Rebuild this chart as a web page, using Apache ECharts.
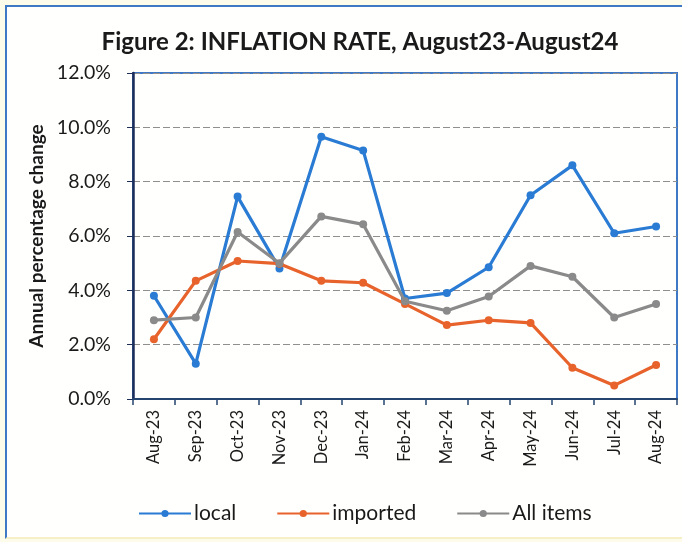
<!DOCTYPE html>
<html>
<head>
<meta charset="utf-8">
<script src="https://cdn.jsdelivr.net/npm/echarts@6/dist/echarts.min.js"></script>
<style>
html,body{margin:0;padding:0;width:682px;height:542px;overflow:hidden;background:#fdfbea;}
#frame{position:absolute;left:5px;top:5px;width:700px;height:530px;border-left:2px solid #3f78c4;border-top:2px solid #3f78c4;border-bottom:2px solid #f6efc8;background:#fffffd;}
#chart{position:absolute;left:0;top:0;width:682px;height:542px;}
</style>
</head>
<body>
<div id="frame"></div>
<div id="chart"></div>
<script>
const categories = ["Aug-23","Sep-23","Oct-23","Nov-23","Dec-23","Jan-24","Feb-24","Mar-24","Apr-24","May-24","Jun-24","Jul-24","Aug-24"];
const local = [3.8, 1.3, 7.45, 4.8, 9.65, 9.15, 3.7, 3.9, 4.85, 7.5, 8.6, 6.1, 6.35];
const imported = [2.2, 4.35, 5.08, 4.98, 4.35, 4.28, 3.5, 2.72, 2.9, 2.8, 1.15, 0.5, 1.25];
const allItems = [2.9, 3.0, 6.15, 5.0, 6.72, 6.43, 3.6, 3.25, 3.77, 4.9, 4.5, 3.0, 3.5];
const yTicks = [0, 2, 4, 6, 8, 10, 12];

const chart = echarts.init(document.getElementById('chart'), null, {renderer:'canvas'});
const font = 'Lato, "Open Sans", sans-serif';
function mk(name, data, color, z){
  return {
    name: name, type: 'line', data: data, z: z,
    symbol: 'circle', symbolSize: 8,
    lineStyle: {color: color, width: 3.2},
    itemStyle: {color: color},
    emphasis: {disabled: true}
  };
}
chart.setOption({
  backgroundColor: 'transparent',
  animation: false,
  title: {
    text: 'Figure 2: INFLATION RATE, August23-August24',
    left: 355, top: 25, textAlign: 'center',
    textStyle: {fontFamily: font, fontSize: 24, fontWeight: 'bold', color: '#1a1a1a'}
  },
  legend: {
    left: 133, top: 498, itemWidth: 52, itemHeight: 9, itemGap: 40,
    textStyle: {fontFamily: font, fontSize: 21, color: '#1a1a1a', padding: [0,0,0,-2]},
    data: ['local','imported','All items']
  },
  grid: {
    left: 133, right: 5, top: 73, bottom: 143,
    show: true, borderColor: '#3f78c4', borderWidth: 2, backgroundColor: 'transparent'
  },
  xAxis: {
    type: 'category', data: categories, boundaryGap: true,
    axisLine: {lineStyle: {color: '#25456f', width: 2}},
    axisTick: {show: true, interval: 0, length: 6, lineStyle: {color: '#25456f', width: 1.5}},
    axisLabel: {interval: 0, rotate: 90, margin: 11, fontFamily: font, fontSize: 16.5, color: '#1a1a1a'}
  },
  yAxis: {
    type: 'value', min: 0, max: 12, interval: 2,
    name: 'Annual percentage change', nameLocation: 'middle', nameGap: 87,
    nameTextStyle: {fontFamily: font, fontSize: 19, fontWeight: 'bold', color: '#1a1a1a'},
    axisLine: {show: true, lineStyle: {color: '#1c2d5a', width: 2.5}},
    axisTick: {show: true, length: 6, lineStyle: {color: '#1c2d5a'}},
    axisLabel: {margin: 22, fontFamily: font, fontSize: 19.5, color: '#1a1a1a',
      formatter: v => v.toFixed(1) + '%'},
    splitLine: {show: true, lineStyle: {color: '#8f8f8f', type: [7,3], width: 1}}
  },
  series: [
    mk('local', local, '#2a7bd3', 3),
    mk('imported', imported, '#e8632b', 4),
    mk('All items', allItems, '#8a8a8a', 5)
  ]
});
</script>
</body>
</html>
